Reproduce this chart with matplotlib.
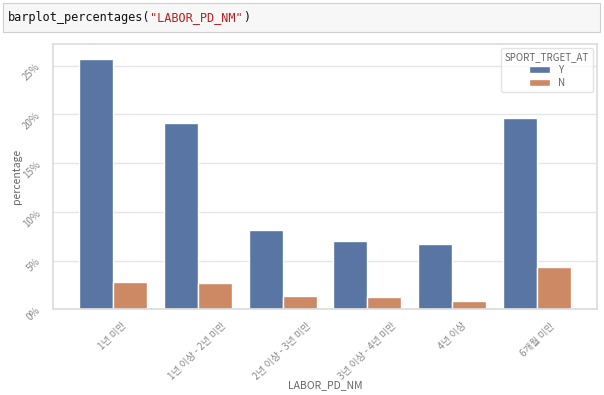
import numpy as np
import pandas as pd
import matplotlib
matplotlib.use("Agg")
import matplotlib.pyplot as plt
import matplotlib.patches as mpatches
from matplotlib.ticker import PercentFormatter
import seaborn as sns

periods = ["1년 미만", "1년 이상 - 2년 미만", "2년 이상 - 3년 미만",
           "3년 이상 - 4년 미만", "4년 이상", "6개월 미만"]
pct_y = [25.7, 19.15, 8.13, 7.03, 6.69, 19.65]
pct_n = [2.78, 2.71, 1.37, 1.27, 0.89, 4.35]
hue_levels = ["Y", "N"]

df = pd.DataFrame({
    "LABOR_PD_NM": periods * 2,
    "percentage": pct_y + pct_n,
    "SPORT_TRGET_AT": ["Y"] * len(periods) + ["N"] * len(periods),
})

sns.set_theme(style="whitegrid")
plt.rcParams["font.family"] = ["Noto Sans CJK KR", "DejaVu Sans"]

fig = plt.figure(figsize=(6.04, 3.95), dpi=100)

# notebook cell with the call above the plot
fig.patches.append(mpatches.Rectangle((3 / 604, 1 - 32 / 395), 597 / 604, 29 / 395,
                                      transform=fig.transFigure, facecolor="#f7f7f7",
                                      edgecolor="#cfcfcf", linewidth=0.8))
code_y = 1 - 18 / 395
t1 = fig.text(8 / 604, code_y, "barplot_percentages(", family="DejaVu Sans Mono",
              fontsize=8.6, color="#111111", va="center")
fig.canvas.draw()
bb = t1.get_window_extent()
t2 = fig.text(bb.x1 / 604, code_y, '"LABOR_PD_NM"', family="DejaVu Sans Mono",
              fontsize=8.6, color="#ba2121", va="center")
fig.canvas.draw()
bb2 = t2.get_window_extent()
fig.text(bb2.x1 / 604, code_y, ")", family="DejaVu Sans Mono",
         fontsize=8.6, color="#111111", va="center")

ax = fig.add_axes([53.3 / 604, 1 - 309.3 / 395, 543.4 / 604, 265 / 395])
sns.barplot(data=df, x="LABOR_PD_NM", y="percentage", hue="SPORT_TRGET_AT",
            hue_order=hue_levels, order=periods, ax=ax, saturation=0.75)

ax.set_xlim(-0.7, 5.7)
ax.set_ylim(0, 27.2)
ax.yaxis.set_major_formatter(PercentFormatter(decimals=0))
ax.tick_params(axis="both", labelsize=7, labelcolor="#888888", pad=2)
plt.setp(ax.get_xticklabels(), rotation=45)
plt.setp(ax.get_yticklabels(), rotation=45)
ax.set_xlabel("LABOR_PD_NM", fontsize=7.5, color="#666666")
ax.set_ylabel("percentage", fontsize=7.5, color="#666666")
ax.xaxis.set_label_coords(0.5, -(385 - 309.3) / 265)
ax.xaxis.label.set_va("center")
ax.yaxis.set_label_coords(-(53.3 - 17) / 543.4, 0.5)
ax.yaxis.label.set_va("center")
for s in ax.spines.values():
    s.set_color("#dddddd")
ax.grid(False, axis="x")
ax.grid(True, axis="y", color="#e6e6e6")

leg = ax.legend(title="SPORT_TRGET_AT", loc="upper right", fontsize=7,
                title_fontsize=7, labelcolor="#666666", frameon=True,
                labelspacing=0.3, handleheight=0.7, handlelength=2.2,
                borderaxespad=0.4)
leg.get_title().set_color("#666666")
leg.get_frame().set_edgecolor("#dddddd")

fig.savefig("out.png", dpi=100)
